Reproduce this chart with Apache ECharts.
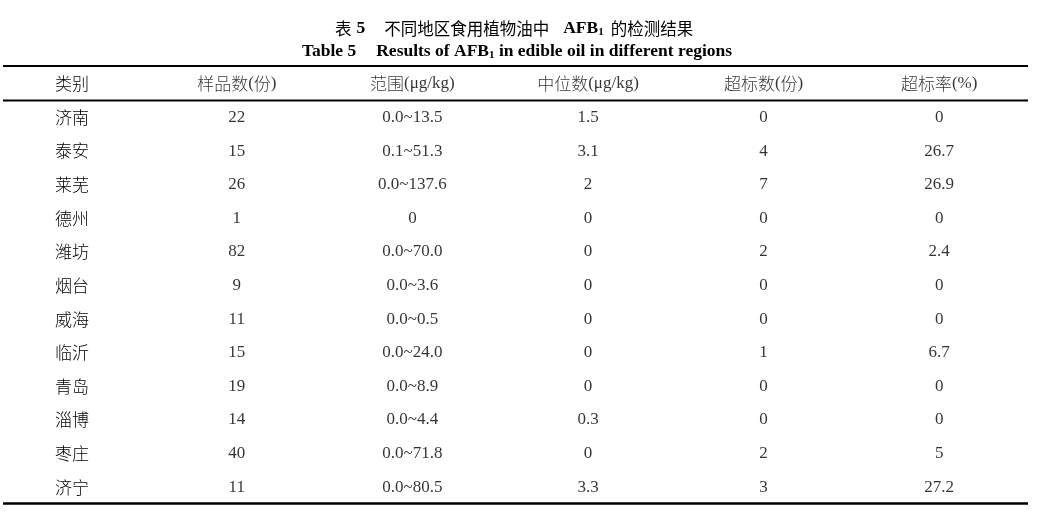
<!DOCTYPE html>
<html>
<head>
<meta charset="utf-8">
<script src="https://cdn.jsdelivr.net/npm/echarts@6/dist/echarts.min.js"></script>
<style>
html,body{margin:0;padding:0;background:#fff;}
#chart{width:1062px;height:516px;}
</style>
</head>
<body>
<div id="chart"></div>
<script>
// ---- data ----
var headers = ['类别', '样品数(份)', '范围(μg/kg)', '中位数(μg/kg)', '超标数(份)', '超标率(%)'];
var regions = ['济南', '泰安', '莱芜', '德州', '潍坊', '烟台', '威海', '临沂', '青岛', '淄博', '枣庄', '济宁'];
var sampleCounts = [22, 15, 26, 1, 82, 9, 11, 15, 19, 14, 40, 11];
var ranges = ['0.0~13.5', '0.1~51.3', '0.0~137.6', '0', '0.0~70.0', '0.0~3.6', '0.0~0.5', '0.0~24.0', '0.0~8.9', '0.0~4.4', '0.0~71.8', '0.0~80.5'];
var medians = [1.5, 3.1, 2, 0, 0, 0, 0, 0, 0, 0.3, 0, 3.3];
var exceedCounts = [0, 4, 7, 0, 2, 0, 0, 1, 0, 0, 2, 3];
var exceedRates = [0, 26.7, 26.9, 0, 2.4, 0, 0, 6.7, 0, 0, 5, 27.2];

// ---- layout / style ----
var gridL = 149, gridR = 35, gridT = 67, gridB = 12;
var ruleX1 = 3, ruleX2 = 1028;
var LATIN = "'Liberation Serif', 'Times New Roman', serif";
var CJK = "'Noto Sans CJK SC', sans-serif";
var TXT = '#000';

function toRich(str, lat, cjk) {
  return String(str).replace(/([\u3000-\u9fff\uff00-\uffef]+)|([^\u3000-\u9fff\uff00-\uffef]+)/g,
    function (m, c, l) { return c ? '{' + cjk + '|' + c + '}' : '{' + lat + '|' + l + '}'; });
}

var columns = headers.slice(1);
var rows = [headers[0]].concat(regions);
var columnValues = [sampleCounts, ranges, medians, exceedCounts, exceedRates];

var cells = [];
columns.forEach(function (h, c) {
  cells.push({ name: h, value: [c, 0] });
  columnValues[c].forEach(function (v, r) {
    cells.push({ name: String(v), value: [c, r + 1] });
  });
});

var bodyRich = {
  l: { fontFamily: LATIN, fontSize: 17, color: TXT },
  c: { fontFamily: CJK, fontSize: 17, fontWeight: 300, color: TXT }
};

var titleRich = {
  b: { fontFamily: LATIN, fontSize: 17.5, fontWeight: 'bold', color: TXT },
  c: { fontFamily: CJK, fontSize: 16.5, fontWeight: 'normal', color: TXT },
  s: { fontFamily: LATIN, fontSize: 11, fontWeight: 'bold', color: TXT, verticalAlign: 'bottom', padding: [8, 0, 0, 0] },
  g1: { width: 5 }, g2: { width: 19 }, g3: { width: 14 }, g4: { width: 7 }, g5: { width: 20 }
};

var chart = echarts.init(document.getElementById('chart'), null, { renderer: 'canvas' });
chart.setOption({
  animation: false,
  backgroundColor: '#fff',
  title: [
    {
      text: '{c|表}{g1| }{b|5}{g2| }{c|不同地区食用植物油中}{g3| }{b|AFB}{s|1}{g4| }{c|的检测结果}',
      left: 509, top: 14, textAlign: 'center',
      textStyle: { rich: titleRich }
    },
    {
      text: '{b|Table 5}{g5| }{b|Results of AFB}{s|1}{b| in edible oil in different regions}',
      left: 512, top: 37, textAlign: 'center',
      textStyle: { rich: titleRich }
    }
  ],
  grid: { left: gridL, right: gridR, top: gridT, bottom: gridB, containLabel: false },
  xAxis: { type: 'category', data: columns, show: false },
  yAxis: {
    type: 'category', data: rows, inverse: true,
    axisLine: { show: false }, axisTick: { show: false }, splitLine: { show: false },
    axisLabel: {
      align: 'left', margin: gridL - 55,
      formatter: function (v) { return toRich(v, 'l', 'c'); },
      rich: bodyRich
    }
  },
  series: [{
    type: 'scatter',
    symbolSize: 0,
    silent: true,
    data: cells,
    label: {
      show: true, position: 'inside', align: 'center', verticalAlign: 'middle',
      formatter: function (p) { return toRich(p.name, 'l', 'c'); },
      rich: bodyRich
    }
  }],
  graphic: [
    { type: 'line', silent: true, shape: { x1: ruleX1, y1: 66, x2: ruleX2, y2: 66 }, style: { stroke: '#000', lineWidth: 2 } },
    { type: 'line', silent: true, shape: { x1: ruleX1, y1: 100.5, x2: ruleX2, y2: 100.5 }, style: { stroke: '#000', lineWidth: 2 } },
    { type: 'line', silent: true, shape: { x1: ruleX1, y1: 503.5, x2: ruleX2, y2: 503.5 }, style: { stroke: '#000', lineWidth: 2.4 } }
  ]
});
</script>
</body>
</html>
